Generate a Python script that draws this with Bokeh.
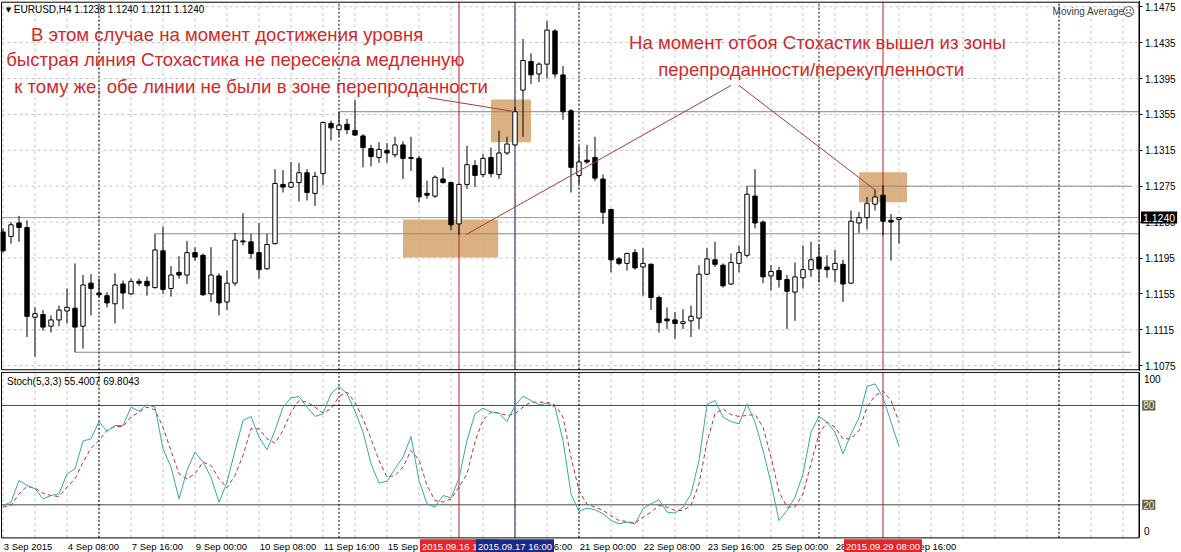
import numpy as np
from bokeh.plotting import figure
from bokeh.layouts import column
from bokeh.models import (Range1d, FixedTicker, Label, ColumnDataSource, LinearAxis,
                          PrintfTickFormatter)
from bokeh.core.properties import value
from bokeh.embed import file_html
from bokeh.resources import INLINE

# ---- EURUSD H4 candles, bar 0 = 3 Sep 2015 00:00 ----
opens = [1.1224, 1.1219, 1.1234, 1.1229, 1.1129, 1.1132, 1.1119, 1.1126, 1.1136, 1.1139,
         1.1119, 1.1167, 1.1156, 1.1153, 1.1144, 1.1166, 1.1155, 1.1169, 1.1169, 1.1162,
         1.1203, 1.1161, 1.1179, 1.1176, 1.1201, 1.1198, 1.1155, 1.1175, 1.1146, 1.1167,
         1.1214, 1.1213, 1.1201, 1.1183, 1.1211, 1.1277, 1.1274, 1.1279, 1.1290, 1.1267,
         1.1289, 1.1345, 1.1338, 1.1344, 1.1337, 1.1331, 1.1317, 1.1307, 1.1315, 1.1310,
         1.1321, 1.1307, 1.1306, 1.1267, 1.1264, 1.1283, 1.1279, 1.1233, 1.1277, 1.1298,
         1.1288, 1.1307, 1.1288, 1.1312, 1.1321, 1.1382, 1.1414, 1.1400, 1.1411, 1.1448,
         1.1399, 1.1359, 1.1287, 1.1304, 1.1307, 1.1283, 1.1249, 1.1194, 1.1189, 1.1201,
         1.1185, 1.1188, 1.1151, 1.1127, 1.1126, 1.1122, 1.1125, 1.1128, 1.1177, 1.1193,
         1.1187, 1.1166, 1.1189, 1.1198, 1.1264, 1.1235, 1.1175, 1.1181, 1.1171, 1.1157,
         1.1173, 1.1182, 1.1196, 1.1185, 1.1182, 1.1188, 1.1167, 1.1234, 1.1240, 1.1255,
         1.1265, 1.1237, 1.1238]
highs = [1.1228, 1.1235, 1.1242, 1.1237, 1.1140, 1.1137, 1.1131, 1.1142, 1.1161, 1.1189,
         1.1176, 1.1177, 1.1172, 1.1157, 1.1178, 1.1170, 1.1172, 1.1172, 1.1174, 1.1222,
         1.1230, 1.1186, 1.1197, 1.1214, 1.1207, 1.1200, 1.1207, 1.1178, 1.1181, 1.1223,
         1.1245, 1.1222, 1.1234, 1.1222, 1.1294, 1.1293, 1.1302, 1.1301, 1.1294, 1.1291,
         1.1347, 1.1348, 1.1358, 1.1350, 1.1371, 1.1333, 1.1321, 1.1324, 1.1323, 1.1330,
         1.1325, 1.1330, 1.1309, 1.1281, 1.1287, 1.1296, 1.1280, 1.1278, 1.1320, 1.1304,
         1.1311, 1.1318, 1.1337, 1.1330, 1.1363, 1.1439, 1.1423, 1.1413, 1.1459, 1.1450,
         1.1409, 1.1361, 1.1320, 1.1321, 1.1330, 1.1288, 1.1250, 1.1196, 1.1201, 1.1205,
         1.1206, 1.1189, 1.1153, 1.1140, 1.1135, 1.1138, 1.1142, 1.1187, 1.1206, 1.1213,
         1.1189, 1.1200, 1.1209, 1.1275, 1.1294, 1.1237, 1.1187, 1.1185, 1.1176, 1.1190,
         1.1209, 1.1213, 1.1210, 1.1198, 1.1204, 1.1193, 1.1248, 1.1246, 1.1263, 1.1271,
         1.1276, 1.1244, 1.1240]
lows = [1.1201, 1.1211, 1.1213, 1.1107, 1.1085, 1.1114, 1.1112, 1.1119, 1.1122, 1.1090,
        1.1094, 1.1131, 1.1151, 1.1140, 1.1122, 1.1138, 1.1154, 1.1164, 1.1153, 1.1161,
        1.1155, 1.1152, 1.1172, 1.1166, 1.1192, 1.1153, 1.1146, 1.1131, 1.1137, 1.1164,
        1.1209, 1.1194, 1.1172, 1.1182, 1.1210, 1.1268, 1.1273, 1.1258, 1.1259, 1.1253,
        1.1276, 1.1326, 1.1330, 1.1333, 1.1331, 1.1296, 1.1297, 1.1301, 1.1301, 1.1307,
        1.1283, 1.1292, 1.1257, 1.1261, 1.1262, 1.1278, 1.1226, 1.1221, 1.1272, 1.1274,
        1.1285, 1.1285, 1.1283, 1.1310, 1.1320, 1.1330, 1.1389, 1.1391, 1.1395, 1.1396,
        1.1349, 1.1268, 1.1277, 1.1300, 1.1281, 1.1233, 1.1179, 1.1187, 1.1181, 1.1182,
        1.1153, 1.1137, 1.1112, 1.1116, 1.1105, 1.1116, 1.1107, 1.1116, 1.1176, 1.1185,
        1.1162, 1.1165, 1.1179, 1.1196, 1.1228, 1.1167, 1.1159, 1.1162, 1.1116, 1.1125,
        1.1161, 1.1174, 1.1168, 1.1173, 1.1168, 1.1146, 1.1166, 1.1223, 1.1227, 1.1248,
        1.1220, 1.1192, 1.1211]
closes = [1.1203, 1.1232, 1.1229, 1.1130, 1.1133, 1.1118, 1.1126, 1.1137, 1.1140, 1.1118,
          1.1165, 1.1161, 1.1154, 1.1145, 1.1165, 1.1156, 1.1169, 1.1167, 1.1164, 1.1204,
          1.1160, 1.1176, 1.1176, 1.1201, 1.1196, 1.1154, 1.1176, 1.1145, 1.1167, 1.1215,
          1.1213, 1.1200, 1.1182, 1.1210, 1.1278, 1.1274, 1.1279, 1.1290, 1.1268, 1.1286,
          1.1346, 1.1340, 1.1343, 1.1338, 1.1332, 1.1318, 1.1308, 1.1316, 1.1312, 1.1321,
          1.1306, 1.1306, 1.1263, 1.1265, 1.1285, 1.1279, 1.1232, 1.1277, 1.1299, 1.1287,
          1.1306, 1.1289, 1.1312, 1.1322, 1.1358, 1.1415, 1.1399, 1.1411, 1.1449, 1.1400,
          1.1358, 1.1296, 1.1302, 1.1302, 1.1284, 1.1246, 1.1193, 1.1189, 1.1200, 1.1184,
          1.1189, 1.1151, 1.1123, 1.1125, 1.1122, 1.1124, 1.1130, 1.1177, 1.1194, 1.1188,
          1.1164, 1.1190, 1.1201, 1.1266, 1.1234, 1.1174, 1.1180, 1.1171, 1.1158, 1.1174,
          1.1182, 1.1193, 1.1183, 1.1182, 1.1189, 1.1166, 1.1236, 1.1240, 1.1256, 1.1263,
          1.1236, 1.1235, 1.1240]

# ---- Stochastic (5,3,3): main %K and signal %D ----
stoch_k = [19.6, 21.6, 34.7, 31.7, 29.7, 23.6, 25.6, 26.6, 38.7, 41.7,
           58.5, 59.9, 70.3, 64.5, 67.9, 67.9, 79.0, 76.6, 80.4, 79.0,
           53.8, 42.8, 23.6, 40.7, 51.8, 45.8, 36.7, 21.6, 33.7, 52.8,
           70.9, 73.4, 60.9, 53.2, 64.9, 79.0, 84.6, 85.4, 79.0, 73.4,
           75.0, 87.1, 91.5, 87.1, 76.6, 63.9, 44.8, 33.1, 34.3, 41.7,
           48.8, 61.3, 34.7, 20.6, 18.6, 25.6, 24.2, 36.0, 58.9, 75.0,
           78.4, 76.0, 75.4, 70.3, 80.0, 85.6, 83.0, 80.4, 81.4, 79.0,
           58.9, 26.6, 16.0, 18.0, 17.0, 14.6, 10.5, 8.5, 9.5, 8.5,
           17.6, 20.6, 23.0, 15.6, 15.0, 18.6, 26.6, 46.8, 80.6, 83.0,
           73.0, 70.3, 68.9, 81.0, 69.9, 53.0, 33.0, 10.5, 16.6, 24.6,
           38.7, 63.9, 73.4, 69.9, 63.9, 50.8, 62.9, 72.6, 91.5, 93.1,
           85.0, 69.9, 55.4007]
stoch_d = [18.6, 19.6, 26.6, 31.1, 30.1, 27.0, 25.6, 25.0, 30.7, 35.7,
           45.8, 54.2, 58.9, 64.9, 67.3, 67.3, 73.0, 76.0, 79.0, 77.4,
           66.9, 52.8, 38.7, 35.7, 38.7, 45.8, 43.8, 35.7, 30.3, 37.7,
           49.8, 65.9, 65.9, 59.9, 57.3, 64.9, 76.0, 83.0, 82.0, 79.0,
           75.4, 78.0, 85.4, 88.1, 82.0, 72.0, 59.9, 46.8, 36.7, 37.7,
           42.8, 52.8, 47.2, 31.7, 22.6, 21.6, 23.6, 30.7, 38.7, 57.9,
           71.4, 76.0, 75.4, 74.0, 75.0, 79.0, 82.0, 82.0, 82.0, 80.4,
           73.0, 48.8, 28.7, 20.2, 18.6, 16.6, 13.5, 10.5, 9.9, 8.9,
           12.5, 15.6, 19.6, 18.6, 16.6, 16.6, 19.6, 32.7, 57.9, 75.0,
           78.0, 74.4, 73.4, 74.0, 74.6, 67.0, 48.8, 28.0, 18.6, 18.6,
           26.6, 44.8, 62.9, 69.9, 66.9, 59.9, 59.9, 64.9, 79.0, 86.0,
           88.7, 83.0, 69.8043]

# ---- scale labels ----
time_tick_bars = [0, 8, 16, 24, 32, 40, 48, 56, 64, 72, 80, 88, 96, 104, 112]
time_tick_labels = ["3 Sep 2015", "4 Sep 08:00", "7 Sep 16:00", "9 Sep 00:00",
                    "10 Sep 08:00", "11 Sep 16:00", "15 Sep 00:00", "16 Sep 08:00",
                    "17 Sep 16:00", "21 Sep 00:00", "22 Sep 08:00", "23 Sep 16:00",
                    "25 Sep 00:00", "28 Sep 08:00", "29 Sep 16:00"]
price_ticks = [1.1075, 1.1115, 1.1155, 1.1195, 1.1235, 1.1275,
               1.1315, 1.1355, 1.1395, 1.1435, 1.1475]
week_start_bars = [12, 42, 72, 102, 132]

# horizontal support / resistance levels: (price, first bar, last bar)
level_prices = [1.1358, 1.1222, 1.1090, 1.1275]
level_from = [42, 19, 9, 93]
level_to = [142, 142, 141, 141]

# marked bars (vertical lines) and their time stamps
mark_bars = [57, 64, 110]
mark_texts = ["2015.09.16 12:00", "2015.09.17 16:00", "2015.09.29 08:00"]
mark_line_colors = ["#b3262a", "#1a1f5c", "#b3262a"]
mark_box_colors = ["#e3262a", "#1c2a86", "#e3262a"]

# ---- layout constants ----
AX_FONT = "Liberation Sans"
RED_TXT = "#cf2a2a"
GRID = "#c4c4c4"
X0, X1 = -0.3125, 147.3125          # visible bar span (8 px per bar)
RIGHT_EDGE = 142                    # bar slot where the price scale starts
LEFT_EDGE = -0.19
P_LO, P_HI = 1.10705, 1.14800       # price panel borders
P_VIEW = (1.106854, 1.148191)
S_VIEW = (-8.82, 100.54)

n = len(opens)
xs = np.arange(n)
o = np.array(opens); c = np.array(closes)
bull = c >= o
grid_bars = list(range(0, RIGHT_EDGE, 4))

xr = Range1d(X0, X1)

# ================= price panel =================
p1 = figure(width=1181, height=371, x_range=xr, y_range=Range1d(*P_VIEW),
            output_backend="svg", toolbar_location=None,
            x_axis_location=None, y_axis_location=None,
            min_border_left=0, min_border_right=0, min_border_top=0, min_border_bottom=0)
p1.outline_line_color = None
p1.grid.visible = False
p1.background_fill_color = "white"
p1.border_fill_color = "white"

# dashed grid
p1.segment(x0=grid_bars, y0=[P_LO] * len(grid_bars), x1=grid_bars, y1=[P_HI] * len(grid_bars),
           line_color=GRID, line_dash="3 3", line_width=1)
p1.segment(x0=[LEFT_EDGE] * len(price_ticks), y0=price_ticks,
           x1=[RIGHT_EDGE] * len(price_ticks), y1=price_ticks,
           line_color=GRID, line_dash="3 3", line_width=1)

# price scale
pax = LinearAxis(fixed_location=RIGHT_EDGE, ticker=FixedTicker(ticks=price_ticks),
                 formatter=PrintfTickFormatter(format="%.4f"))
pax.axis_line_color = "black"
pax.major_tick_out = 3
pax.major_tick_in = 0
pax.minor_tick_line_color = None
pax.major_label_standoff = 3
pax.major_label_text_font = AX_FONT
pax.major_label_text_font_size = "10px"
pax.major_label_text_color = "black"
p1.add_layout(pax, "right")

# highlighted zones
p1.quad(left=[50, 61, 107], right=[61.9, 66, 113],
        bottom=[1.11955, 1.13240, 1.12572], top=[1.12379, 1.13715, 1.12906],
        fill_color="#d8a873", fill_alpha=0.9, line_color=None)

# levels and bid line
p1.segment(x0=level_from, y0=level_prices, x1=level_to, y1=level_prices,
           line_color="#8a8a8a", line_width=1)
p1.segment(x0=[LEFT_EDGE], y0=[closes[-1]], x1=[RIGHT_EDGE], y1=[closes[-1]],
           line_color="#9a9a9a", line_width=1)

# weekly separators and marked bars
p1.segment(x0=week_start_bars, y0=[P_LO] * 5, x1=week_start_bars, y1=[P_HI] * 5,
           line_color="black", line_dash="2 2", line_width=1)
p1.segment(x0=mark_bars, y0=[P_LO] * 3, x1=mark_bars, y1=[P_HI] * 3,
           line_color=mark_line_colors, line_width=1)

# candles
p1.segment(x0=xs, y0=highs, x1=xs, y1=lows, line_color="black", line_width=1)
up_src = ColumnDataSource(dict(x=xs[bull], top=c[bull], bottom=o[bull]))
dn_src = ColumnDataSource(dict(x=xs[~bull], top=o[~bull], bottom=c[~bull]))
p1.vbar(x="x", top="top", bottom="bottom", width=0.55, source=up_src,
        fill_color="white", line_color="black", line_width=1)
p1.vbar(x="x", top="top", bottom="bottom", width=0.55, source=dn_src,
        fill_color="black", line_color="black", line_width=1)

# pointer lines
p1.segment(x0=[53.1, 57.9, 92.0], y0=[1.13738, 1.12212, 1.13872],
           x1=[63.9, 91.0, 109.1], y1=[1.13582, 1.13872, 1.12702],
           line_color="#a83a36", line_width=1)

# panel border
p1.multi_line(xs=[[LEFT_EDGE, RIGHT_EDGE, RIGHT_EDGE, LEFT_EDGE, LEFT_EDGE]],
              ys=[[P_HI, P_HI, P_LO, P_LO, P_HI]], line_color="black", line_width=1)

# comments
p1.text(x=[3.5, 0.4, 1.4], y=[1.1444, 1.14162, 1.13861],
        text=["В этом случае на момент достижения уровня",
              "быстрая линия Стохастика не пересекла медленную",
              "к тому же, обе линии не были в зоне перепроданности"],
        text_font=value("Liberation Sans"), text_font_size="18.6px",
        text_color=RED_TXT, text_align="left", text_baseline="middle")
p1.text(x=[78.25, 81.9], y=[1.14351, 1.1405],
        text=["На момент отбоя Стохастик вышел из зоны",
              "перепроданности/перекупленности"],
        text_font=value("Liberation Sans"), text_font_size="18.6px",
        text_color=RED_TXT, text_align="left", text_baseline="middle")

# header
header = "EURUSD,H4  %.4f %.4f %.4f %.4f" % (opens[-1], highs[-1], lows[-1], closes[-1])
p1.text(x=[0.35], y=[1.14716], text=["▼"], text_font=value("DejaVu Sans"),
        text_font_size="7px", text_color="black", text_align="left", text_baseline="middle")
p1.text(x=[1.35], y=[1.14716], text=[header], text_font=value(AX_FONT),
        text_font_size="10px", text_color="black", text_align="left", text_baseline="middle")
p1.text(x=[131.2], y=[1.14696], text=["Moving Average"], text_font=value(AX_FONT),
        text_font_size="10px", text_color="#404040", text_align="left", text_baseline="middle")
p1.text(x=[140.7], y=[1.14696], text=["☹"], text_font=value("DejaVu Sans"),
        text_font_size="12px", text_color="#404040", text_align="center", text_baseline="middle")

# current price tag
p1.add_layout(Label(x=RIGHT_EDGE + 0.25, y=closes[-1], text="%.4f" % closes[-1],
                    text_align="left", text_baseline="middle", text_font=AX_FONT,
                    text_font_size="10.5px", text_color="white",
                    background_fill_color="black", padding=2))

# ================= stochastic panel =================
p2 = figure(width=1181, height=181, x_range=xr, y_range=Range1d(*S_VIEW),
            output_backend="svg", toolbar_location=None,
            x_axis_location=None, y_axis_location=None,
            min_border_left=0, min_border_right=0, min_border_top=0, min_border_bottom=0)
p2.outline_line_color = None
p2.grid.visible = False
p2.background_fill_color = "white"
p2.border_fill_color = "white"

p2.segment(x0=grid_bars, y0=[0] * len(grid_bars), x1=grid_bars, y1=[100] * len(grid_bars),
           line_color=GRID, line_dash="3 3", line_width=1)

sax = LinearAxis(fixed_location=RIGHT_EDGE, ticker=FixedTicker(ticks=[96, 4]),
                 bounds=(0, 100))
sax.major_label_overrides = {96: "100", 4: "0"}
sax.axis_line_color = "black"
sax.major_tick_out = 0
sax.major_tick_in = 0
sax.minor_tick_line_color = None
sax.major_label_standoff = 5
sax.major_label_text_font = AX_FONT
sax.major_label_text_font_size = "10px"
sax.major_label_text_color = "black"
p2.add_layout(sax, "right")

# overbought / oversold levels
p2.segment(x0=[LEFT_EDGE] * 2, y0=[80, 20], x1=[RIGHT_EDGE] * 2, y1=[80, 20],
           line_color="#4d4d45", line_width=1)

p2.segment(x0=week_start_bars, y0=[0] * 5, x1=week_start_bars, y1=[100] * 5,
           line_color="black", line_dash="2 2", line_width=1)
p2.segment(x0=mark_bars, y0=[0] * 3, x1=mark_bars, y1=[100] * 3,
           line_color=mark_line_colors, line_width=1)

p2.line(xs, stoch_d, line_color="#b03432", line_width=1, line_dash="4 3")
p2.line(xs, stoch_k, line_color="#3aa89f", line_width=1)

p2.multi_line(xs=[[LEFT_EDGE, RIGHT_EDGE, RIGHT_EDGE, LEFT_EDGE, LEFT_EDGE]],
              ys=[[100, 100, 0, 0, 100]], line_color="black", line_width=1)

p2.text(x=[0.5], y=[94.5],
        text=["Stoch(5,3,3) %.4f %.4f" % (stoch_k[-1], stoch_d[-1])],
        text_font=value(AX_FONT), text_font_size="10px", text_color="black",
        text_align="left", text_baseline="middle")

# time scale
p2.text(x=[b + 0.1 for b in time_tick_bars], y=[-5.3] * len(time_tick_bars),
        text=time_tick_labels, text_font=value(AX_FONT), text_font_size="9.5px",
        text_color="black", text_align="left", text_baseline="middle")

for lvl in (80, 20):
    p2.add_layout(Label(x=RIGHT_EDGE + 0.4, y=lvl, text=str(lvl), text_align="left",
                        text_baseline="middle", text_font=AX_FONT, text_font_size="10px",
                        text_color="#f2f2e4", background_fill_color="#5c6040",
                        background_fill_alpha=1.0, padding=1))

for b, t, col in zip(mark_bars, mark_texts, mark_box_colors):
    p2.add_layout(Label(x=b, y=-5.3, text=t, text_align="center",
                        text_baseline="middle", text_font=AX_FONT, text_font_size="9.5px",
                        text_color="white", background_fill_color=col, padding=2))

layout = column(p1, p2, spacing=0)
open("out.html", "w").write(file_html(layout, INLINE))
